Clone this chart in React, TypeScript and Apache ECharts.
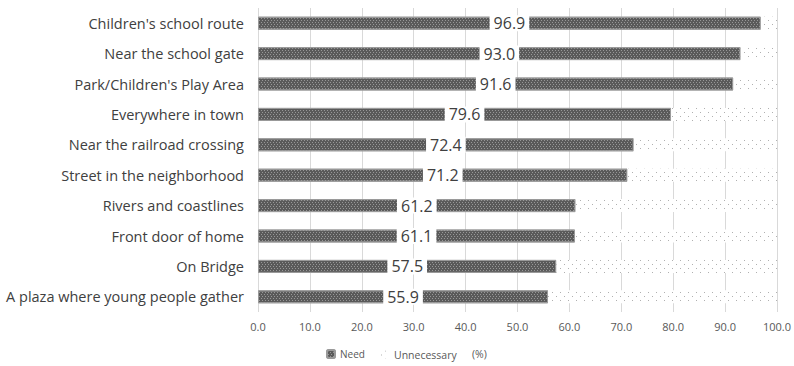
import React, { useEffect, useRef } from "react";
import * as echarts from "echarts";

const categories = [
  "Children's school route",
  "Near the school gate",
  "Park/Children's Play Area",
  "Everywhere in town",
  "Near the railroad crossing",
  "Street in the neighborhood",
  "Rivers and coastlines",
  "Front door of home",
  "On Bridge",
  "A plaza where young people gather",
];
const needValues = [96.9, 93.0, 91.6, 79.6, 72.4, 71.2, 61.2, 61.1, 57.5, 55.9];
const unnecessaryValues = [3.1, 7.0, 8.4, 20.4, 27.6, 28.8, 38.8, 38.9, 42.5, 44.1];
const xTicks = { min: 0, max: 100, interval: 10 };

const FONT = "'Open Sans', 'Noto Sans', sans-serif";

export default function App() {
  const ref = useRef<HTMLDivElement>(null);
  useEffect(() => {
    if (!ref.current) return;
    const chart = echarts.init(ref.current, null, { renderer: "svg" });
    const legendText = { color: "#595959", fontSize: 10, fontFamily: FONT };
    chart.setOption({
      animation: false,
      backgroundColor: "#ffffff",
      grid: { left: 258, right: 17, top: 8, bottom: 54 },
      xAxis: {
        type: "value",
        min: xTicks.min,
        max: xTicks.max,
        interval: xTicks.interval,
        axisLabel: {
          formatter: (v: number) => v.toFixed(1),
          color: "#595959",
          fontSize: 11,
          fontFamily: FONT,
          margin: 9,
        },
        axisLine: { show: false },
        axisTick: { show: false },
        splitLine: { lineStyle: { color: "#d9d9d9", width: 1 } },
      },
      yAxis: {
        type: "category",
        data: categories,
        inverse: true,
        axisLine: { show: false },
        axisTick: { show: false },
        axisLabel: {
          color: "#404040",
          fontSize: 14.5,
          fontFamily: FONT,
          margin: 14,
        },
      },
      legend: [
        {
          data: ["Need"],
          left: 321,
          top: 344,
          itemWidth: 8,
          itemHeight: 8,
          itemGap: 4,
          textStyle: legendText,
        },
        {
          data: ["Unnecessary"],
          left: 376,
          top: 344,
          itemWidth: 8,
          itemHeight: 8,
          textStyle: { ...legendText, fontSize: 10.5 },
        },
      ],
      graphic: [
        {
          type: "text",
          left: 472,
          top: 348,
          style: { text: "(%)", fill: "#595959", fontSize: 10.5, fontFamily: FONT },
        },
      ],
      series: [
        {
          name: "Need",
          type: "bar",
          stack: "total",
          data: needValues,
          barWidth: 13,
          itemStyle: {
            color: "#5a5a5a",
            borderColor: "#9a9a9a",
            borderWidth: 1,
            decal: {
              symbol: "rect",
              symbolSize: 1,
              color: "rgba(200,200,200,0.55)",
              dashArrayX: [[1, 2], [0, 1, 1, 1]],
              dashArrayY: [1, 1],
              rotation: 0,
            },
          },
          label: {
            show: true,
            position: "inside",
            formatter: (p: any) => Number(p.value).toFixed(1),
            color: "#404040",
            fontSize: 16,
            fontFamily: FONT,
            backgroundColor: "#ffffff",
            padding: [0, 4],
          },
        },
        {
          name: "Unnecessary",
          type: "bar",
          stack: "total",
          data: unnecessaryValues,
          barWidth: 13,
          itemStyle: {
            color: "#ffffff",
            decal: {
              symbol: "rect",
              symbolSize: 1,
              color: "#b0b0b0",
              dashArrayX: [[1, 7], [0, 4, 1, 3]],
              dashArrayY: [1, 3],
              rotation: 0,
            },
          },
        },
      ],
    });
    return () => chart.dispose();
  }, []);
  return (
    <div
      ref={ref}
      style={{ position: "fixed", left: 0, top: 0, width: 794, height: 366 }}
    />
  );
}
